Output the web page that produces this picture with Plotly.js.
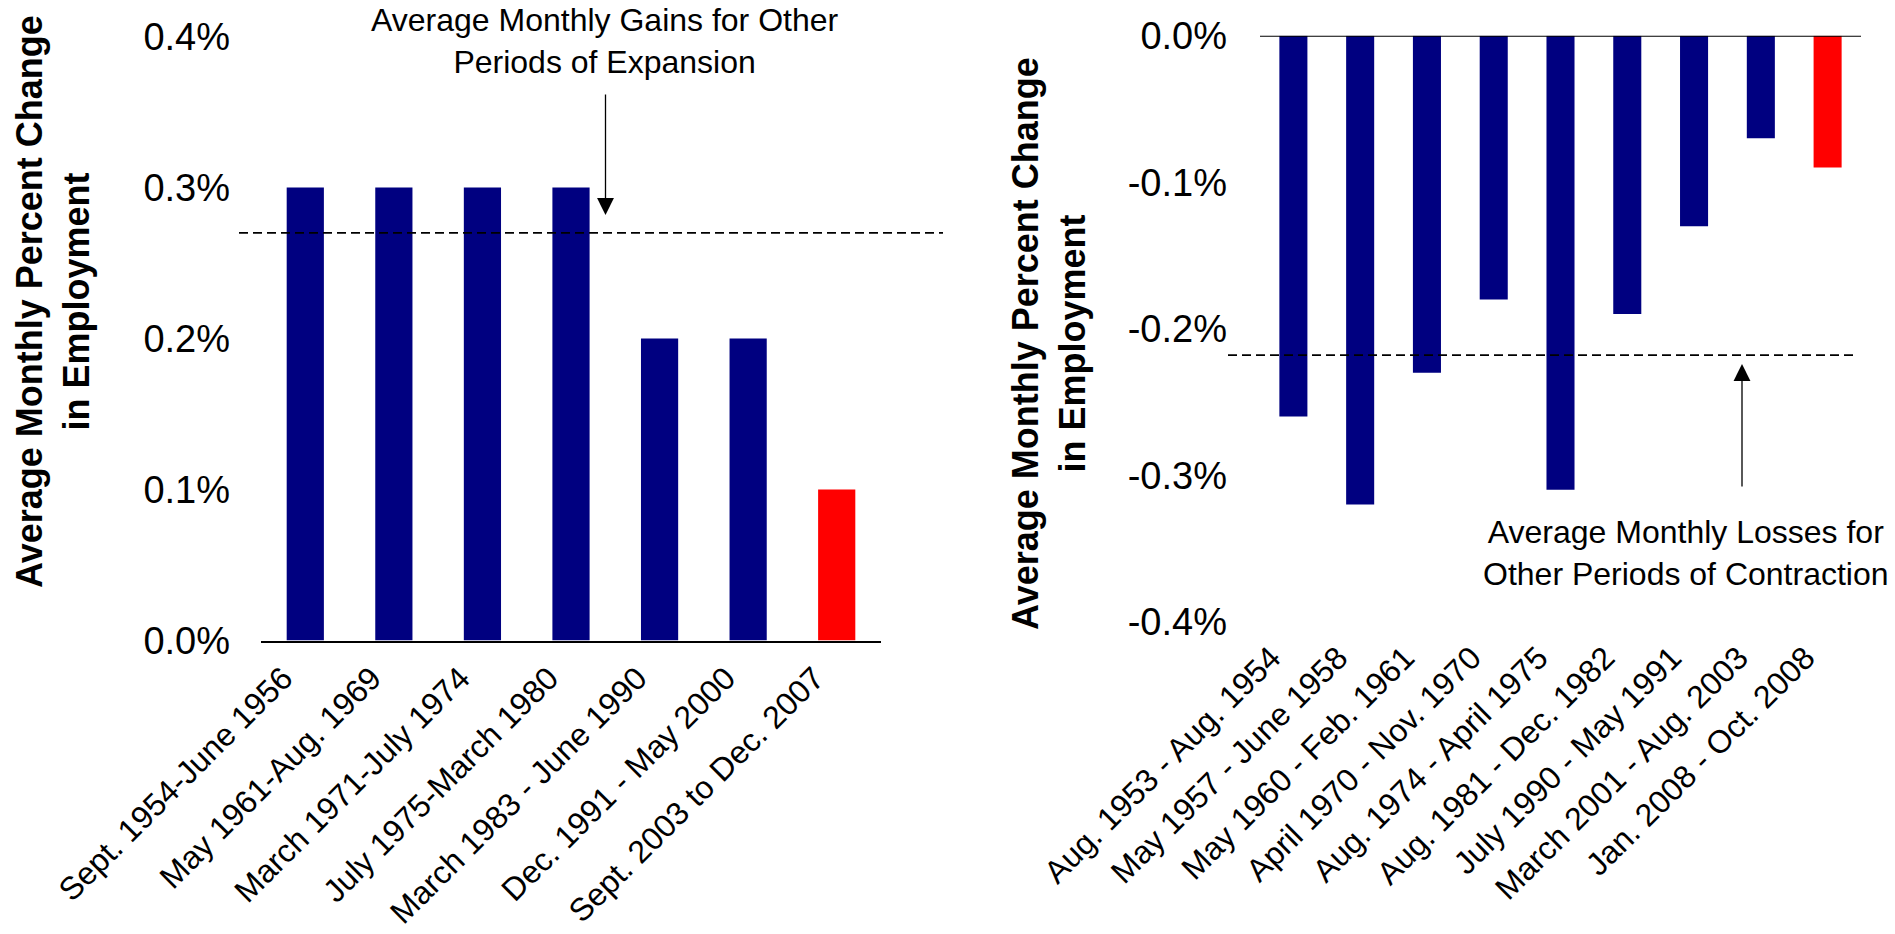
<!DOCTYPE html>
<html>
<head>
<meta charset="utf-8">
<script src="https://cdn.plot.ly/plotly-3.0.1.min.js"></script>
<style>
  html, body { margin: 0; padding: 0; background: #ffffff; }
  #chart { width: 1895px; height: 934px; }
</style>
</head>
<body>
<div id="chart"></div>
<script>
// ---------------- data ----------------
const expansionPeriods = [
  "Sept. 1954-June 1956",
  "May 1961-Aug. 1969",
  "March 1971-July 1974",
  "July 1975-March 1980",
  "March 1983 - June 1990",
  "Dec. 1991 - May 2000",
  "Sept. 2003 to Dec. 2007"
];
const expansionGains = [0.3, 0.3, 0.3, 0.3, 0.2, 0.2, 0.1];
const avgExpansionGain = 0.27;

const contractionPeriods = [
  "Aug. 1953 - Aug. 1954",
  "May 1957 - June 1958",
  "May 1960 - Feb. 1961",
  "April 1970 - Nov. 1970",
  "Aug. 1974 - April 1975",
  "Aug. 1981 - Dec. 1982",
  "July 1990 - May 1991",
  "March 2001 - Aug. 2003",
  "Jan. 2008 - Oct. 2008"
];
const contractionLosses = [-0.26, -0.32, -0.23, -0.18, -0.31, -0.19, -0.13, -0.07, -0.09];
const avgContractionLoss = -0.218;

const expansionTickVals = [0, 0.1, 0.2, 0.3, 0.4];
const expansionTickText = ["0.0%", "0.1%", "0.2%", "0.3%", "0.4%"];
const contractionTickVals = [-0.4, -0.3, -0.2, -0.1, 0];
const contractionTickText = ["-0.4%", "-0.3%", "-0.2%", "-0.1%", "0.0%"];

const yTitle = "Average Monthly Percent Change<br>in Employment";
const expansionNote = "Average Monthly Gains for Other<br>Periods of Expansion";
const contractionNote = "Average Monthly Losses for<br>Other Periods of Contraction";

// ---------------- styles ----------------
const NAVY = "#000080";
const RED = "#FF0000";
const FONT = "Liberation Sans, Arial, sans-serif";
// the latest period (last bar) is highlighted in red
const colorsFor = (arr) => arr.map((_, i) => (i === arr.length - 1 ? RED : NAVY));

const traces = [
  {
    type: "bar",
    x: expansionPeriods,
    y: expansionGains,
    xaxis: "x",
    yaxis: "y",
    marker: { color: colorsFor(expansionGains), line: { width: 0 } },
    hoverinfo: "skip"
  },
  {
    type: "bar",
    x: contractionPeriods,
    y: contractionLosses,
    xaxis: "x2",
    yaxis: "y2",
    marker: { color: colorsFor(contractionLosses), line: { width: 0 } },
    hoverinfo: "skip"
  }
];

const W = 1895, H = 934;
const px = (v) => v / W;
const py = (v) => (H - v) / H;

const tickFontY = { family: FONT, size: 38, color: "#000" };
const tickFontX = { family: FONT, size: 32, color: "#000" };

const layout = {
  width: W,
  height: H,
  margin: { l: 0, r: 0, t: 0, b: 0 },
  paper_bgcolor: "#ffffff",
  plot_bgcolor: "#ffffff",
  showlegend: false,
  bargap: 0.58,
  font: { family: FONT, color: "#000" },
  xaxis: {
    domain: [px(261), px(881)],
    anchor: "y",
    type: "category",
    tickangle: -45,
    tickfont: tickFontX,
    showline: true,
    linecolor: "#000",
    linewidth: 2,
    ticks: "",
    showgrid: false,
    zeroline: false,
    ticklabelstandoff: 4,
    ticklabelshift: -22
  },
  yaxis: {
    domain: [py(640.6), py(36.6)],
    anchor: "x",
    range: [0, 0.4],
    tickvals: expansionTickVals,
    ticktext: expansionTickText,
    tickfont: tickFontY,
    showgrid: false,
    zeroline: false,
    showline: false,
    ticks: "",
    ticklabelstandoff: 30
  },
  xaxis2: {
    domain: [px(1260), px(1861)],
    anchor: "y2",
    type: "category",
    tickangle: -45,
    tickfont: tickFontX,
    showline: false,
    ticks: "",
    showgrid: false,
    zeroline: false,
    ticklabelstandoff: 10,
    ticklabelshift: -22
  },
  yaxis2: {
    domain: [py(621.7), py(35.7)],
    anchor: "x2",
    range: [-0.4, 0],
    tickvals: contractionTickVals,
    ticktext: contractionTickText,
    tickfont: tickFontY,
    showgrid: false,
    zeroline: false,
    showline: false,
    ticks: "",
    ticklabelstandoff: 32
  },
  shapes: [
    // average gain reference line (left)
    {
      type: "line", xref: "paper", yref: "y",
      x0: px(239), x1: px(943), y0: avgExpansionGain, y1: avgExpansionGain,
      line: { color: "#000", width: 1.7, dash: "9px,5px" }
    },
    // average loss reference line (right)
    {
      type: "line", xref: "paper", yref: "y2",
      x0: px(1228), x1: px(1854), y0: avgContractionLoss, y1: avgContractionLoss,
      line: { color: "#000", width: 1.7, dash: "9px,5px" }
    },
    // zero line of right chart (top edge)
    {
      type: "line", xref: "x2 domain", yref: "y2",
      x0: 0, x1: 1, y0: 0, y1: 0,
      line: { color: "#000", width: 2 }
    }
  ],
  annotations: [
    // y-axis titles
    {
      xref: "paper", yref: "paper", x: px(53), y: py(302),
      xanchor: "center", yanchor: "middle", textangle: -90,
      text: "<b>" + yTitle + "</b>", showarrow: false,
      font: { family: FONT, size: 36, color: "#000" }
    },
    {
      xref: "paper", yref: "paper", x: px(1049), y: py(344),
      xanchor: "center", yanchor: "middle", textangle: -90,
      text: "<b>" + yTitle + "</b>", showarrow: false,
      font: { family: FONT, size: 36, color: "#000" }
    },
    // notes
    {
      xref: "paper", yref: "paper", x: px(605), y: py(41),
      xanchor: "center", yanchor: "middle",
      text: expansionNote, showarrow: false,
      font: { family: FONT, size: 32, color: "#000" }
    },
    {
      xref: "paper", yref: "paper", x: px(1686), y: py(553),
      xanchor: "center", yanchor: "middle",
      text: contractionNote, showarrow: false,
      font: { family: FONT, size: 32, color: "#000" }
    },
    // arrows
    {
      xref: "paper", yref: "paper", x: px(605.5), y: py(215),
      axref: "pixel", ayref: "pixel", ax: 0, ay: -122,
      text: "", showarrow: true, arrowhead: 2, arrowsize: 2.6, arrowwidth: 1.3,
      arrowcolor: "#000", standoff: 0
    },
    {
      xref: "paper", yref: "paper", x: px(1742), y: py(364),
      axref: "pixel", ayref: "pixel", ax: 0, ay: 124,
      text: "", showarrow: true, arrowhead: 2, arrowsize: 2.6, arrowwidth: 1.3,
      arrowcolor: "#000", standoff: 0
    }
  ]
};

Plotly.newPlot("chart", traces, layout, { staticPlot: true, displayModeBar: false });
</script>
</body>
</html>
